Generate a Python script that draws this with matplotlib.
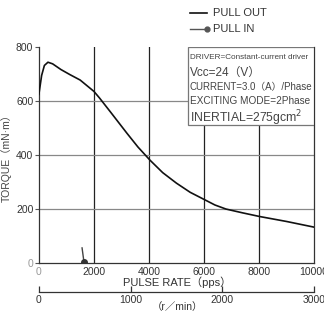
import matplotlib
matplotlib.use('Agg')
import matplotlib.pyplot as plt
from matplotlib.lines import Line2D
from matplotlib.patches import Rectangle

plt.rcParams['font.family'] = ['Liberation Sans', 'Noto Sans CJK JP', 'DejaVu Sans']

# pull-out torque curve (pps, mN*m)
pull_out_pps = [0, 100, 200, 330, 500, 800, 1130, 1500, 2000, 2200, 2600, 3200,
                3600, 4040, 4500, 5000, 5500, 5960, 6400, 6800, 7400, 8040, 9000, 10000]
pull_out_torque = [625, 695, 732, 744, 738, 717, 698, 678, 636, 612, 560, 481,
                   430, 381, 335, 296, 262, 238, 215, 200, 186, 172, 154, 133]

# pull-in curve (short stub with a dot)
pull_in_pps = [1570, 1640]
pull_in_torque = [56, 3]

x_ticks = [0, 2000, 4000, 6000, 8000, 10000]
y_ticks = [0, 200, 400, 600, 800]
rpm_ticks = [0, 1000, 2000, 3000]

info_lines = ['DRIVER=Constant-current driver', 'Vcc=24（V）', 'CURRENT=3.0（A）/Phase',
              'EXCITING MODE=2Phase', 'INERTIAL=275gcm$^2$']

fig = plt.figure(figsize=(3.24, 3.12), dpi=100)
ax = fig.add_axes([0.120, 0.157, 0.849, 0.692])

ax.set_xlim(0, 10000)
ax.set_ylim(0, 800)
ax.set_xticks(x_ticks)
ax.set_yticks(y_ticks)
ax.set_xticklabels(['0'] + [str(v) for v in x_ticks[1:]], fontsize=7.5, color='#333333')
ax.set_yticklabels([str(v) for v in y_ticks], fontsize=7.5, color='#333333')
ax.get_xticklabels()[0].set_color('#999999')
ax.get_yticklabels()[0].set_color('#999999')
ax.tick_params(axis='x', length=0, pad=3)
ax.tick_params(axis='y', length=3, width=0.8, color='#555555', pad=1)

for v in x_ticks[1:-1]:
    ax.axvline(v, color='#222222', lw=0.9, zorder=1)
for v in y_ticks[1:-1]:
    ax.axhline(v, color='#888888', lw=0.9, zorder=1)

ax.spines['top'].set_visible(False)
for s in ['left', 'bottom', 'right']:
    ax.spines[s].set_color('#333333')
    ax.spines[s].set_linewidth(0.9)

ax.plot(pull_out_pps, pull_out_torque, color='#111111', lw=1.2, zorder=3)
ax.plot(pull_in_pps, pull_in_torque, color='#444444', lw=1.0, zorder=3)
ax.plot(pull_in_pps[-1:], pull_in_torque[-1:], 'o', color='#333333', ms=4, zorder=4)

# info box
ax.add_patch(Rectangle((0.542, 0.639), 0.458, 0.361, transform=ax.transAxes,
                       facecolor='white', edgecolor='#777777', lw=0.9, zorder=5))
info_y = [0.952, 0.882, 0.815, 0.752, 0.672]
info_size = [5.9, 8.5, 7.0, 7.2, 8.8]
for txt, yy, fs in zip(info_lines, info_y, info_size):
    ax.text(0.548, yy, txt, transform=ax.transAxes, fontsize=fs, color='#444444',
            va='center', ha='left', zorder=6)

# axis labels
ax.set_ylabel('TORQUE（mN·m）', fontsize=7.5, color='#444444')
ax.yaxis.set_label_coords(-0.098, 0.5)
fig.text(0.547, 1 - 282 / 312, 'PULSE RATE（pps）', fontsize=8, color='#333333',
         ha='center', va='center')

# secondary rpm axis
sec = ax.secondary_xaxis(-0.134, functions=(lambda x: x * 0.3, lambda r: r / 0.3))
sec.set_xticks(rpm_ticks)
sec.set_xticklabels([str(v) for v in rpm_ticks], fontsize=7.5, color='#333333')
sec.tick_params(direction='in', length=4, width=0.9, color='#333333', pad=2)
sec.spines['bottom'].set_color('#333333')
sec.spines['bottom'].set_linewidth(0.9)
fig.text(0.547, 1 - 307 / 312, '（r／min）', fontsize=7.5, color='#333333',
         ha='center', va='center')

# legend at the top
fig.add_artist(Line2D([190 / 324, 207 / 324], [1 - 13 / 312, 1 - 13 / 312],
                      color='#111111', lw=1.2))
fig.add_artist(Line2D([190 / 324, 207 / 324], [1 - 29 / 312, 1 - 29 / 312],
                      color='#555555', lw=1.0, marker='o', markevery=[1], ms=3.5))
fig.text(213 / 324, 1 - 13 / 312, 'PULL OUT', fontsize=8, color='#333333', va='center')
fig.text(213 / 324, 1 - 29 / 312, 'PULL IN', fontsize=8, color='#333333', va='center')

fig.savefig('out.png', dpi=100)
